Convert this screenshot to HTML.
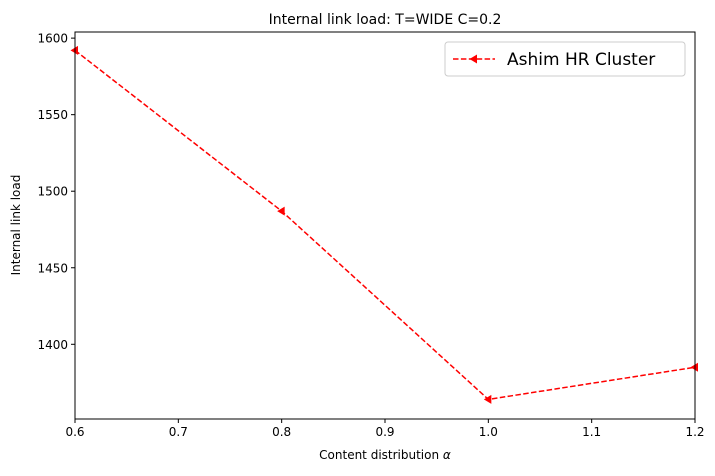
<!DOCTYPE html>
<html><head><meta charset="utf-8"><style>
body{margin:0;background:#fff;}
text{font-family:"DejaVu Sans","Liberation Sans",sans-serif;}
</style></head><body>
<svg id="chart" width="715" height="471" xmlns="http://www.w3.org/2000/svg"></svg>
<script>
const xValues=[0.6,0.8,1.0,1.2];
const yValues=[1592,1487,1364,1385];
const xTicks=[0.6,0.7,0.8,0.9,1.0,1.1,1.2];
const xTickLabels=["0.6","0.7","0.8","0.9","1.0","1.1","1.2"];
const yTicks=[1400,1450,1500,1550,1600];
const seriesName="Ashim HR Cluster";
const L=75,R=695,T=32,B=419;
const X0=0.6,X1=1.2,Y0=1351.2,Y1=1604;
const sx=v=>L+(v-X0)/(X1-X0)*(R-L);
const sy=v=>B-(v-Y0)/(Y1-Y0)*(B-T);
const svg=document.getElementById('chart');
const NS="http://www.w3.org/2000/svg";
function mk(tag,attrs,name,txt){const e=document.createElementNS(NS,tag);for(const k in attrs)e.setAttribute(k,attrs[k]);


if(txt!==undefined)e.textContent=txt;svg.appendChild(e);return e;}
mk('rect',{x:L,y:T,width:R-L,height:B-T,fill:'#fff',stroke:'none'},'plot-area');
let d=xValues.map((v,i)=>(i?'L':'M')+sx(v)+' '+sy(yValues[i])).join(' ');
mk('path',{d:d,fill:'none',stroke:'#ff0000','stroke-width':1.5,'stroke-dasharray':'5.5,2.4'},'series-line');
xValues.forEach((v,i)=>{const x=sx(v),y=sy(yValues[i]);
mk('polygon',{points:`${x-4.5},${y} ${x+3},${y-4.5} ${x+3},${y+4.5}`,fill:'#ff0000'},'series-marker');});
mk('rect',{x:L,y:T,width:R-L,height:B-T,fill:'none',stroke:'#000','stroke-width':1},'axes-frame');
xTicks.forEach((v,i)=>{const x=sx(v);
mk('line',{x1:x,y1:B,x2:x,y2:B+4,stroke:'#000'},'x-tick');
mk('text',{x:x,y:B+17,'font-size':12,'text-anchor':'middle'},'x-tick-label',xTickLabels[i]);});
yTicks.forEach(v=>{const y=sy(v);
mk('line',{x1:L-4,y1:y,x2:L,y2:y,stroke:'#000'},'y-tick');
mk('text',{x:L-7,y:y+4.5,'font-size':12,'text-anchor':'end'},'y-tick-label',String(v));});
mk('text',{x:385,y:24,'font-size':14,'text-anchor':'middle'},'chart-title','Internal link load: T=WIDE C=0.2');
const xt=mk('text',{x:385,y:459,'font-size':12,'text-anchor':'middle'},'x-axis-title','Content distribution ');
const ts=document.createElementNS(NS,'tspan');ts.setAttribute('font-style','italic');ts.textContent='α';xt.appendChild(ts);
mk('text',{x:0,y:0,'font-size':12,'text-anchor':'middle',transform:'translate(20,225) rotate(-90)'},'y-axis-title','Internal link load');
mk('rect',{x:445,y:42,width:240,height:34,rx:3,fill:'#fff',stroke:'#ccc'},'legend-box');
mk('line',{x1:453,y1:59,x2:495,y2:59,stroke:'#ff0000','stroke-width':1.5,'stroke-dasharray':'5.5,2.4'},'legend-line');
mk('polygon',{points:`469.5,59 477,54.5 477,63.5`,fill:'#ff0000'},'legend-marker');
mk('text',{x:507,y:65,'font-size':17},'legend-label',seriesName);
</script>
</body></html>
